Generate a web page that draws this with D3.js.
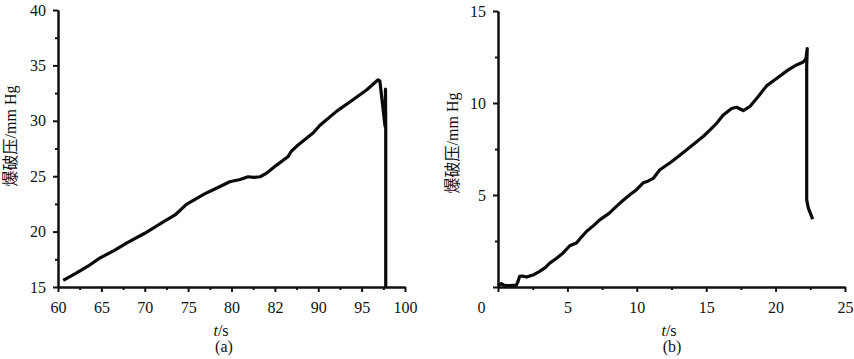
<!DOCTYPE html>
<html>
<head>
<meta charset="utf-8">
<script src="https://cdn.jsdelivr.net/npm/d3@7"></script>
<style>
  body { margin: 0; background: #fff; }
  text { font-family: "Liberation Serif", "Noto Sans CJK SC", serif; fill: #111; }
</style>
</head>
<body>
<div id="my_dataviz"></div>
<script>
// panel (a) data: time (s) and burst pressure (mm Hg)
var timeA  = [60.6, 62.0, 63.5, 64.8, 66.5, 68.0, 70.0, 72.0, 73.5, 74.8, 76.9, 78.5, 79.8, 81.0, 81.9, 82.6, 83.3, 84.0, 85.2, 86.5, 86.9, 87.5, 89.4, 90.2, 92.1, 94.0, 95.6, 96.9, 97.1, 97.7, 97.75, 97.78, 97.78];
var pressA = [15.6, 16.2, 16.9, 17.6, 18.3, 19.0, 19.85, 20.8, 21.5, 22.45, 23.4, 24.0, 24.5, 24.7, 24.95, 24.9, 24.95, 25.25, 26.0, 26.75, 27.25, 27.7, 28.9, 29.6, 30.85, 31.9, 32.8, 33.7, 33.6, 29.5, 32.85, 29.2, 15.0];
var ticksA = [60, 65, 70, 75, 80, 85, 90, 95, 100];
var tickLabelsA = ["60", "65", "70", "75", "80", "82", "90", "95", "100"];
var yTicksA = [15, 20, 25, 30, 35, 40];

// panel (b) data
var timeB  = [0.0, 0.24, 0.48, 0.9, 1.32, 1.44, 1.56, 1.75, 2.04, 2.52, 3.0, 3.4, 3.73, 4.2, 4.69, 5.17, 5.65, 6.0, 6.37, 6.9, 7.33, 8.0, 8.53, 9.0, 9.5, 9.98, 10.46, 10.8, 11.18, 11.66, 12.4, 13.1, 14.0, 14.78, 15.3, 15.75, 16.23, 16.83, 17.19, 17.67, 18.15, 18.75, 19.35, 20.07, 20.91, 21.51, 21.99, 22.19, 22.28, 22.24, 22.24, 22.36, 22.67];
var pressB = [0.07, 0.18, 0.07, 0.08, 0.1, 0.3, 0.58, 0.6, 0.54, 0.65, 0.85, 1.05, 1.3, 1.55, 1.85, 2.24, 2.39, 2.7, 3.02, 3.35, 3.65, 4.0, 4.38, 4.7, 5.01, 5.29, 5.66, 5.75, 5.9, 6.37, 6.75, 7.16, 7.7, 8.18, 8.55, 8.9, 9.35, 9.7, 9.77, 9.59, 9.81, 10.35, 10.93, 11.33, 11.8, 12.07, 12.23, 12.41, 12.96, 11.98, 4.74, 4.29, 3.69];
var ticksB = [0, 5, 10, 15, 20, 25];
var yTicksB = [0, 5, 10, 15];

var yTitle = "爆破压/mm Hg";
var xTitle = "s";

var svg = d3.select("#my_dataviz")
  .append("svg")
    .attr("width", 854)
    .attr("height", 359);

function drawPanel(opts) {
  var x = d3.scaleLinear().domain(opts.xDomain).range([opts.left, opts.right]);
  var y = d3.scaleLinear().domain(opts.yDomain).range([opts.bottom, opts.top]);

  var g = svg.append("g");

  // minor ticks
  var xMinor = d3.range(opts.xDomain[0] + opts.xStep / 2, opts.xDomain[1], opts.xStep);
  var yMinor = d3.range(opts.yDomain[0] + opts.yStep / 2, opts.yDomain[1], opts.yStep);
  g.append("g")
    .attr("transform", "translate(0," + opts.bottom + ")")
    .call(d3.axisBottom(x).tickValues(xMinor).tickSize(3).tickSizeOuter(0).tickFormat(""));
  g.append("g")
    .attr("transform", "translate(" + opts.left + ",0)")
    .call(d3.axisLeft(y).tickValues(yMinor).tickSize(3).tickSizeOuter(0).tickFormat(""));

  // X axis
  var xAxis = g.append("g")
    .attr("transform", "translate(0," + opts.bottom + ")")
    .call(d3.axisBottom(x).tickValues(opts.xTicks).tickSize(5).tickSizeOuter(0)
      .tickPadding(10).tickFormat(opts.xFormat));
  // Y axis
  var yAxis = g.append("g")
    .attr("transform", "translate(" + opts.left + ",0)")
    .call(d3.axisLeft(y).tickValues(opts.yTicks).tickSize(5).tickSizeOuter(0)
      .tickPadding(7).tickFormat(opts.yFormat));

  g.selectAll("g").attr("font-family", null);
  g.selectAll(".domain, .tick line")
    .attr("stroke", "#111")
    .attr("stroke-width", 2);
  g.selectAll(".tick text")
    .style("font-family", "'Liberation Serif', serif")
    .style("font-size", "16px");

  // data line
  var pts = opts.xs.map(function(d, i) { return [d, opts.ys[i]]; });
  g.append("path")
    .datum(pts)
    .attr("fill", "none")
    .attr("stroke", "#0a0a0a")
    .attr("stroke-width", 3.2)
    .attr("stroke-linejoin", "round")
    .attr("d", d3.line().x(function(d) { return x(d[0]); }).y(function(d) { return y(d[1]); }));

  // titles
  var xt = g.append("text")
    .attr("x", opts.titleX).attr("y", 336)
    .attr("text-anchor", "middle")
    .style("font-size", "16px");
  xt.append("tspan").style("font-style", "italic").text("t");
  xt.append("tspan").text("/" + xTitle);

  g.append("text")
    .attr("x", opts.capX).attr("y", 352)
    .attr("text-anchor", "middle")
    .style("font-size", "16px")
    .text(opts.caption);

  g.append("text")
    .attr("transform", "translate(" + opts.yTitleX + "," + opts.yTitleY + ") rotate(-90)")
    .attr("text-anchor", "middle")
    .attr("dominant-baseline", "central")
    .style("font-size", "16px")
    .text(yTitle);

  return xAxis;
}

drawPanel({
  left: 58, right: 405, top: 10, bottom: 287,
  xDomain: [60, 100], yDomain: [15, 40], xStep: 5, yStep: 5,
  xTicks: ticksA, yTicks: yTicksA,
  xFormat: function(d, i) { return tickLabelsA[i]; },
  yFormat: d3.format("d"),
  xs: timeA, ys: pressA,
  titleX: 221, capX: 224, caption: "(a)",
  yTitleX: 10, yTitleY: 136
});

var axB = drawPanel({
  left: 498, right: 845, top: 11, bottom: 287,
  xDomain: [0, 25], yDomain: [0, 15], xStep: 5, yStep: 5,
  xTicks: ticksB, yTicks: yTicksB,
  xFormat: d3.format("d"),
  yFormat: function(d) { return d === 0 ? "" : d; },
  xs: timeB, ys: pressB,
  titleX: 669, capX: 672, caption: "(b)",
  yTitleX: 452, yTitleY: 143
});
// origin label sits left of the axis in the reference
axB.selectAll(".tick text").filter(function(d) { return d === 0; }).attr("dx", -17);
</script>
</body>
</html>
